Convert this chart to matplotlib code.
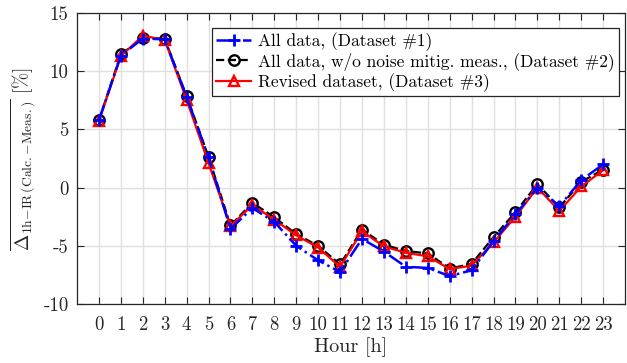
import matplotlib
matplotlib.use('Agg')
import matplotlib.pyplot as plt

# hourly deviation data for the three datasets
hours = list(range(24))
dataset1 = [5.8, 11.35, 12.8, 12.75, 7.8, 2.6, -3.55, -1.75, -2.95, -5.0, -6.25, -7.25,
            -4.4, -5.5, -6.8, -6.9, -7.6, -7.1, -4.6, -2.3, 0.0, -1.6, 0.65, 2.0]
dataset2 = [5.8, 11.45, 12.85, 12.8, 7.85, 2.65, -3.25, -1.3, -2.55, -4.0, -5.0, -6.6,
            -3.6, -4.9, -5.45, -5.65, -6.95, -6.55, -4.25, -2.1, 0.3, -1.7, 0.5, 1.55]
dataset3 = [5.7, 11.3, 13.05, 12.7, 7.55, 2.1, -3.3, -1.5, -2.75, -4.1, -5.15, -6.8,
            -3.75, -5.05, -5.6, -5.9, -7.0, -6.7, -4.7, -2.5, 0.0, -2.0, 0.1, 1.5]

labels = ['All data, (Dataset #1)',
          'All data, w/o noise mitig. meas., (Dataset #2)',
          'Revised dataset, (Dataset #3)']

yticks = [-10, -5, 0, 5, 10, 15]
ytick_labels = ['-10', '-5', '0', '5', '10', '15']

plt.rcParams['font.family'] = 'serif'
plt.rcParams['font.serif'] = ['cmr10']
plt.rcParams['mathtext.fontset'] = 'cm'
plt.rcParams['axes.formatter.use_mathtext'] = True

fig = plt.figure(figsize=(6.27, 3.63), dpi=100)
ax = fig.add_axes([0.1228, 0.1625, 0.8742, 0.8015])

ax.plot(hours, dataset2, color='black', linestyle='--', marker='o', markersize=7.5,
        markerfacecolor='none', markeredgewidth=1.7, linewidth=1.6, label=labels[1], zorder=3)
ax.plot(hours, dataset3, color='red', linestyle='-', marker='^', markersize=7,
        markerfacecolor='none', markeredgewidth=1.7, linewidth=1.6, label=labels[2], zorder=4)
ax.plot(hours, dataset1, color='blue', linestyle='-.', marker='+', markersize=8.5,
        markeredgewidth=2.0, linewidth=1.8, label=labels[0], zorder=5)

ax.set_xlim(-1, 24)
ax.set_ylim(-10, 15)
ax.set_xticks(hours)
ax.set_xticklabels([str(h) for h in hours])
ax.set_yticks(yticks)
ax.set_yticklabels(ytick_labels)
ax.tick_params(direction='in', top=True, right=True, labelsize=13.5, length=5,
               width=0.8, colors='#262626')
ax.tick_params(axis='x', pad=9)
ax.tick_params(axis='y', pad=6)
for s in ax.spines.values():
    s.set_color('#262626')
    s.set_linewidth(0.9)
ax.grid(True, color='#e0e0e0', linewidth=1.0)
ax.set_axisbelow(True)

ax.set_xlabel('Hour [h]', fontsize=14.5, color='#262626', labelpad=2)
ax.set_ylabel(r'$\overline{\Delta_{\mathrm{1h{-}IR\,(Calc.{-}Meas.)}}}$ [%]', fontsize=14,
              color='#262626', labelpad=4)

handles, lbls = ax.get_legend_handles_labels()
order = [2, 0, 1]
leg = ax.legend([handles[i] for i in order], [lbls[i] for i in order],
                loc='upper left', bbox_to_anchor=(0.246, 0.95), fontsize=12.5,
                fancybox=False, framealpha=1, edgecolor='#262626',
                handlelength=2.0, handletextpad=0.4, borderpad=0.25,
                labelspacing=0.1, borderaxespad=0)
leg.get_frame().set_linewidth(0.9)

fig.savefig('out.png', dpi=100)
